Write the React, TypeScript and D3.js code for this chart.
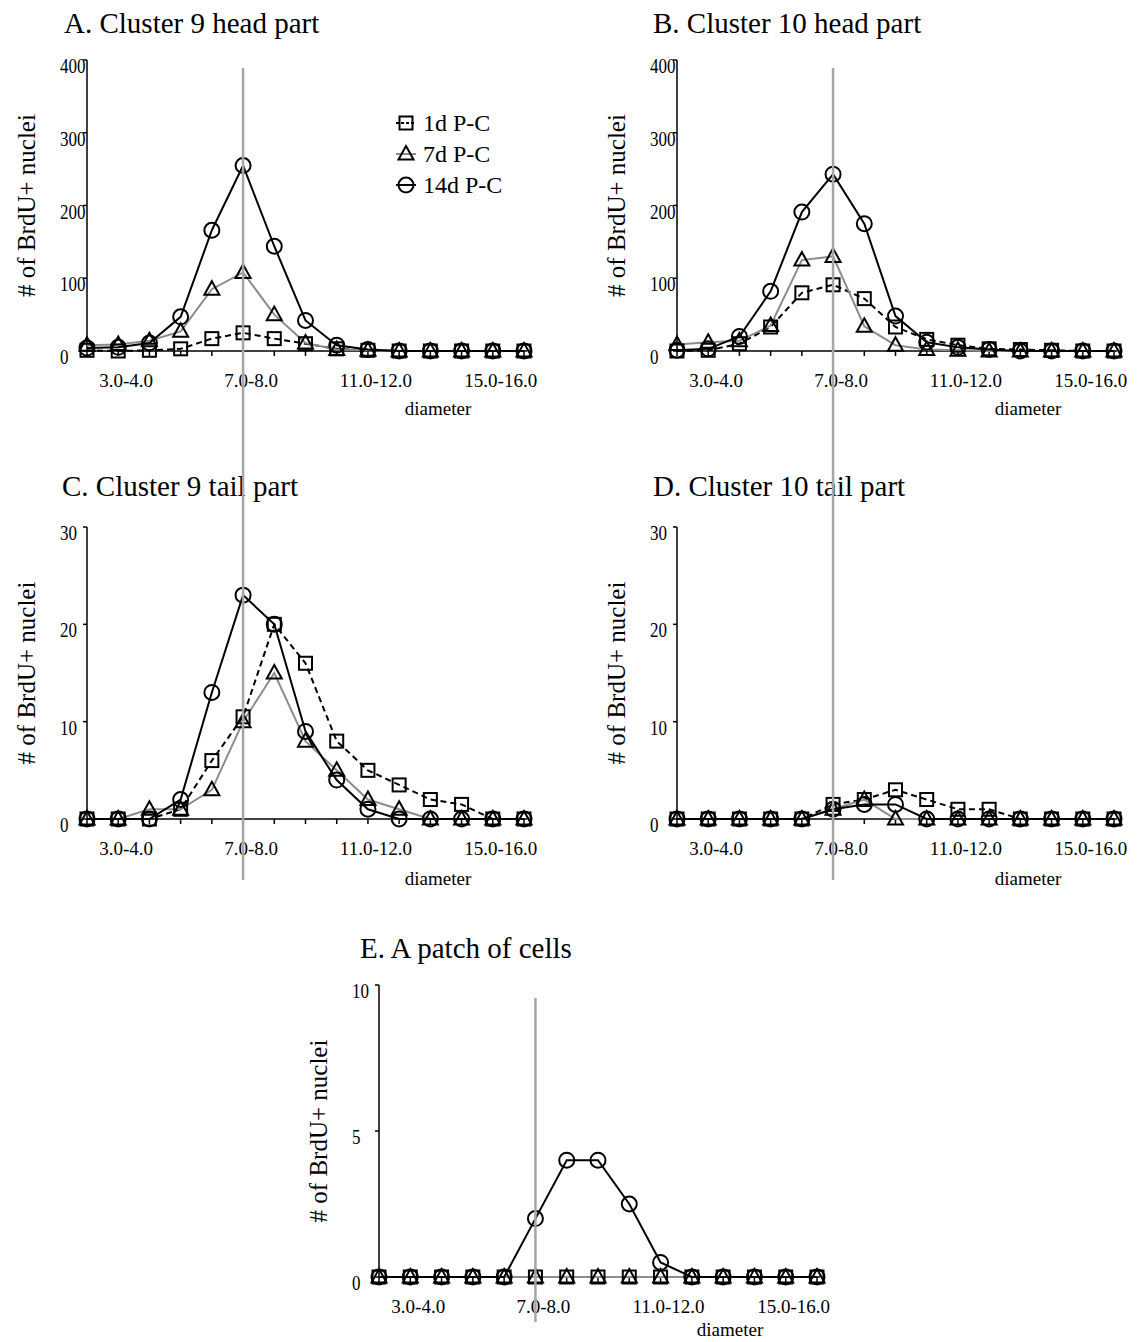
import React from 'react';
import * as d3 from 'd3';

// diameter bins on the x axis (only every 4th one gets a label)
const diameterBins = [
  '2.0-3.0', '3.0-4.0', '4.0-5.0', '5.0-6.0', '6.0-7.0', '7.0-8.0', '8.0-9.0', '9.0-10.0',
  '10.0-11.0', '11.0-12.0', '12.0-13.0', '13.0-14.0', '14.0-15.0', '15.0-16.0', '16.0-17.0',
];
const labeledBins = ['3.0-4.0', '7.0-8.0', '11.0-12.0', '15.0-16.0'];
const markerBin = '7.0-8.0';
const seriesNames = ['1d P-C', '7d P-C', '14d P-C'];

// A. Cluster 9 head part
const c9Head1d = [1, 0, 1, 3, 17, 25, 17, 10, 3, 1, 0, 0, 0, 0, 0];
const c9Head7d = [8, 9, 14, 27, 85, 108, 50, 11, 2, 1, 0, 0, 0, 0, 0];
const c9Head14d = [4, 5, 11, 47, 166, 255, 144, 42, 8, 2, 0, 0, 0, 0, 0];

// B. Cluster 10 head part
const c10Head1d = [0, 1, 10, 33, 80, 91, 72, 33, 16, 8, 3, 2, 1, 0, 0];
const c10Head7d = [9, 12, 14, 35, 125, 130, 34, 8, 2, 1, 0, 0, 0, 0, 0];
const c10Head14d = [1, 3, 20, 82, 191, 243, 175, 48, 12, 5, 2, 0, 0, 0, 0];

// C. Cluster 9 tail part
const c9Tail1d = [0, 0, 0, 1, 6, 10.5, 20, 16, 8, 5, 3.5, 2, 1.5, 0, 0];
const c9Tail7d = [0, 0, 1, 1, 3, 10, 15, 8, 5, 2, 1, 0, 0, 0, 0];
const c9Tail14d = [0, 0, 0, 2, 13, 23, 20, 9, 4, 1, 0, 0, 0, 0, 0];

// D. Cluster 10 tail part
const c10Tail1d = [0, 0, 0, 0, 0, 1.5, 2, 3, 2, 1, 1, 0, 0, 0, 0];
const c10Tail7d = [0, 0, 0, 0, 0, 1, 2, 0, 0, 0, 0, 0, 0, 0, 0];
const c10Tail14d = [0, 0, 0, 0, 0, 1, 1.5, 1.5, 0, 0, 0, 0, 0, 0, 0];

// E. A patch of cells
const patch1d = [0, 0, 0, 0, 0, 0, 0, 0, 0, 0, 0, 0, 0, 0, 0];
const patch7d = [0, 0, 0, 0, 0, 0, 0, 0, 0, 0, 0, 0, 0, 0, 0];
const patch14d = [0, 0, 0, 0, 0, 2, 4, 4, 2.5, 0.5, 0, 0, 0, 0, 0];

const yTicks400 = [0, 100, 200, 300, 400];
const yTicks30 = [0, 10, 20, 30];
const yTicks10 = [0, 5, 10];

const FONT = '"Liberation Serif", "Times New Roman", Times, serif';
const GRAY = '#8c8c8c';

const panels = [
  { title: 'A. Cluster 9 head part', titleX: 64, titleY: 33, left: 87, right: 524, top: 60, bottom: 351,
    diamY: 415, ticks: yTicks400, series: [c9Head1d, c9Head7d, c9Head14d], legend: true },
  { title: 'B. Cluster 10 head part', titleX: 653, titleY: 33, left: 677, right: 1114, top: 60, bottom: 351,
    diamY: 415, ticks: yTicks400, series: [c10Head1d, c10Head7d, c10Head14d] },
  { title: 'C. Cluster 9 tail part', titleX: 62, titleY: 496, left: 87, right: 524, top: 527, bottom: 819,
    diamY: 885, ticks: yTicks30, series: [c9Tail1d, c9Tail7d, c9Tail14d] },
  { title: 'D. Cluster 10 tail part', titleX: 653, titleY: 496, left: 677, right: 1114, top: 527, bottom: 819,
    diamY: 885, ticks: yTicks30, series: [c10Tail1d, c10Tail7d, c10Tail14d] },
  { title: 'E. A patch of cells', titleX: 360, titleY: 958, left: 379, right: 817, top: 985, bottom: 1277,
    diamY: 1336, ticks: yTicks10, series: [patch1d, patch7d, patch14d] },
];

// vertical grey guide lines at the 7.0-8.0 bin
const guides = [
  { panel: 0, y1: 68, y2: 880 },
  { panel: 1, y1: 68, y2: 880 },
  { panel: 4, y1: 998, y2: 1322 },
];

const lineStyles = [
  { stroke: '#000', dash: '6,4' },
  { stroke: GRAY, dash: undefined },
  { stroke: '#000', dash: undefined },
];

const Marker = ({ kind, x, y }: { kind: number; x: number; y: number }) => {
  if (kind === 0) return <rect x={x - 6.5} y={y - 6.5} width={13} height={13} fill="none" stroke="#000" strokeWidth={2} />;
  if (kind === 1) return <path d={`M${x},${y - 8}L${x + 7.5},${y + 5.5}L${x - 7.5},${y + 5.5}Z`} fill="none" stroke="#000" strokeWidth={2} />;
  return <circle cx={x} cy={y} r={7.5} fill="none" stroke="#000" strokeWidth={2} />;
};

const xScaleFor = (p: any) => d3.scalePoint<string>().domain(diameterBins).range([p.left, p.right]);

const Panel = ({ p }: { p: any }) => {
  const x = xScaleFor(p);
  const yMax = p.ticks[p.ticks.length - 1];
  const y = d3.scaleLinear().domain([0, yMax]).range([p.bottom, p.top]);
  const line = d3.line<number>().x((_, i) => x(diameterBins[i]) as number).y(v => y(v));
  const midY = (p.top + p.bottom) / 2;

  return (
    <g fontFamily={FONT} fill="#000">
      <text x={p.titleX} y={p.titleY} fontSize={29}>{p.title}</text>

      {/* y axis */}
      <line x1={p.left} x2={p.left} y1={y(0)} y2={y(yMax)} stroke="#000" strokeWidth={1.5} />
      {p.ticks.map((t: number) => (
        <g key={t}>
          <line x1={p.left - 4} x2={p.left} y1={y(t)} y2={y(t)} stroke="#000" strokeWidth={1.5} />
          <text transform={`translate(${p.left - 27},${y(t) + 13}) scale(0.85,1)`} fontSize={20}>{t}</text>
        </g>
      ))}
      <text transform={`translate(${p.left - 52},${midY}) rotate(-90)`} textAnchor="middle" fontSize={25}>
        # of BrdU+ nuclei
      </text>

      {/* x axis */}
      <line x1={p.left} x2={p.right + 3} y1={y(0)} y2={y(0)} stroke="#000" strokeWidth={1.5} />
      {diameterBins.map(b => (
        <line key={b} x1={x(b)} x2={x(b)} y1={y(0)} y2={y(0) + 5} stroke="#000" strokeWidth={1.5} />
      ))}
      {labeledBins.map(b => (
        <text key={b} x={(x(b) as number) + 8} y={y(0) + 36} textAnchor="middle" fontSize={19}>{b}</text>
      ))}
      <text x={p.left + 351} y={p.diamY} textAnchor="middle" fontSize={19}>diameter</text>

      {/* series */}
      {p.series.map((s: number[], k: number) => (
        <path key={k} d={line(s) || ''} fill="none" stroke={lineStyles[k].stroke}
          strokeDasharray={lineStyles[k].dash} strokeWidth={2} />
      ))}
      {p.series.map((s: number[], k: number) =>
        s.map((v, i) => <Marker key={`${k}-${i}`} kind={k} x={x(diameterBins[i]) as number} y={y(v)} />)
      )}

      {p.legend && seriesNames.map((name, k) => {
        const ly = 123 + k * 31;
        return (
          <g key={name}>
            <line x1={396} x2={416} y1={ly} y2={ly} stroke={lineStyles[k].stroke}
              strokeDasharray={k === 0 ? '3,2' : undefined} strokeWidth={2} />
            <Marker kind={k} x={406} y={ly} />
            <text x={423} y={ly + 8} fontSize={24}>{name}</text>
          </g>
        );
      })}
    </g>
  );
};

export default function App() {
  return (
    <svg width={1138} height={1342} style={{ position: 'absolute', left: 0, top: 0, background: '#fff' }}>
      <rect width={1138} height={1342} fill="#fff" />
      {panels.map((p, i) => <Panel key={i} p={p} />)}
      {guides.map((g, i) => {
        const gx = xScaleFor(panels[g.panel])(markerBin) as number;
        return <line key={i} x1={gx} x2={gx} y1={g.y1} y2={g.y2} stroke="#a6a6a6" strokeWidth={2.5} />;
      })}
    </svg>
  );
}
